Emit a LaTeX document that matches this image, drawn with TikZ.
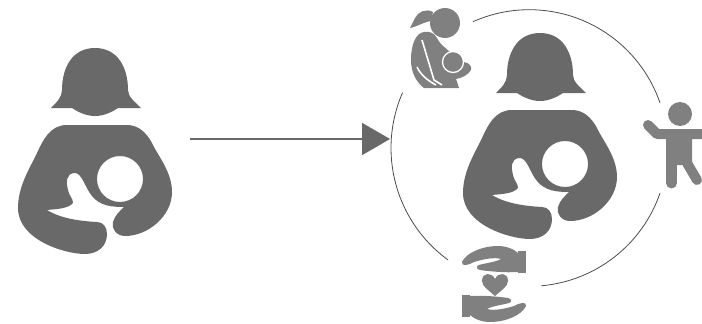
\documentclass[tikz,border=0pt]{standalone}
\usetikzlibrary{arrows.meta,calc}
\definecolor{mumgray}{HTML}{696969}
\definecolor{icongray}{HTML}{808080}

\begin{document}
\begin{tikzpicture}[
  x=1pt,y=-1pt,
  flow/.style={-{Triangle[length=28pt,width=32pt]},line width=2pt,draw=mumgray},
  ring/.style={line width=0.8pt,draw=black!70},
  limb/.style={line width=10pt,line cap=round,draw=icongray},
  mother/.pic={
    \fill[mumgray] (51,108) .. controls (57,102) and (62,97) .. (62,90)
      .. controls (62,68) and (72,48) .. (95,48)
      .. controls (118,48) and (128,68) .. (128,90)
      .. controls (128,97) and (135,102) .. (141,108)
      -- (118,108) .. controls (112,112) and (104,116) .. (95,116)
      .. controls (86,116) and (78,112) .. (72,108) -- cycle;
    \fill[mumgray,even odd rule] (67,125) -- (127,125)
      .. controls (138,125) and (146,132) .. (152,143)
      .. controls (158,156) and (172,172) .. (172,192)
      .. controls (172,216) and (148,236) .. (125,236)
      .. controls (116,236) and (111,228) .. (113,222)
      .. controls (115,215) and (120,211) .. (124,207)
      .. controls (112,207) and (100,206) .. (92,196)
      .. controls (85,188) and (82,172) .. (74,173)
      .. controls (66,174) and (66,182) .. (68,190)
      .. controls (69,196) and (73,198) .. (73,203)
      .. controls (68,209) and (56,209) .. (47,210)
      .. controls (60,218) and (78,221) .. (97,222)
      .. controls (103,222) and (107,227) .. (107,234)
      .. controls (107,246) and (98,254) .. (85,254)
      .. controls (65,254) and (18,240) .. (18,208)
      .. controls (18,186) and (30,168) .. (37,153)
      .. controls (43,140) and (50,125) .. (67,125) -- cycle
      (120,179) circle (23);
  },
  hand/.pic={
    \fill[icongray] (24,-33) rectangle (32,-11);
    \fill[icongray] (-32,-22) .. controls (-28,-31) and (-12,-38) .. (4,-38)
      .. controls (12,-38) and (20,-35) .. (24,-31) -- (24,-12)
      .. controls (12,-11) and (-8,-13) .. (-14,-14)
      .. controls (-18,-15) and (-18,-18) .. (-15,-19)
      .. controls (-8,-21) and (2,-22) .. (7,-25)
      .. controls (0,-27) and (-10,-25) .. (-20,-22)
      .. controls (-25,-19) and (-33,-17) .. (-32,-22) -- cycle;
  }
]
\useasboundingbox (0,0) rectangle (702,324);

\coordinate (arrowstart) at (190,139);
\coordinate (arrowend) at (390,139);
\coordinate (ringc) at (529.3,148);

\pic (mumleft) at (0,0) {mother};
\pic (mumright) at (445,-15) {mother};
\draw[flow] (arrowstart) -- (arrowend);

% ring segments
\draw[ring] ($(ringc)+(-114:138.3)$) arc[start angle=-114,end angle=-19,radius=138.3];
\draw[ring] ($(ringc)+(19:138.3)$) arc[start angle=19,end angle=85,radius=138.3];
\draw[ring] ($(ringc)+(126:138.3)$) arc[start angle=126,end angle=203.6,radius=138.3];

% nursing figure
\fill[icongray] (445,23) circle (15);
\fill[icongray] (433,12) .. controls (426,8) and (418,12) .. (415,18)
  .. controls (413,22) and (411,26) .. (410,28)
  .. controls (416,27) and (424,22) .. (431,21) -- cycle;
\fill[icongray] (424,32) .. controls (430,31) and (434,33) .. (437,38)
  .. controls (439,42) and (442,45) .. (442,45)
  -- (450,52) -- (464,62) .. controls (470,63) and (472,67) .. (471,70)
  .. controls (468,75) and (462,78) .. (456,79) -- (459,88) -- (424,88)
  .. controls (416,82) and (411,72) .. (411,60)
  .. controls (411,44) and (416,33) .. (424,32) -- cycle;
\draw[white,line width=1.6pt] (422,40) -- (434,80) -- (442,85);
\draw[white,line width=1.6pt] (417,67) .. controls (420,74) and (428,81) .. (436,85);
\fill[icongray,draw=white,line width=1.3pt] (453,62) circle (10.5);

% child
\fill[icongray] (680,114) circle (12);
\fill[icongray] (657,129) -- (702,129) -- (702,139) -- (692,139) -- (692,165)
  -- (666,165) -- (666,139) -- (657,139) -- cycle;
\draw[limb] (648,125) -- (657,134);
\draw[limb] (687,163) -- (697,180);
\draw[limb,line width=11pt] (671.5,160) -- (671.5,183);

% hands and heart
\pic (handtop) at (494,284) {hand};
\pic (handbottom) at (494,284) [rotate=180] {hand};
\fill[icongray] (495,279) .. controls (498,272) and (508,272) .. (508,281)
  .. controls (508,287) and (500,291) .. (495,296)
  .. controls (490,291) and (482,287) .. (482,281)
  .. controls (482,272) and (492,272) .. (495,279) -- cycle;
\end{tikzpicture}
\end{document}
